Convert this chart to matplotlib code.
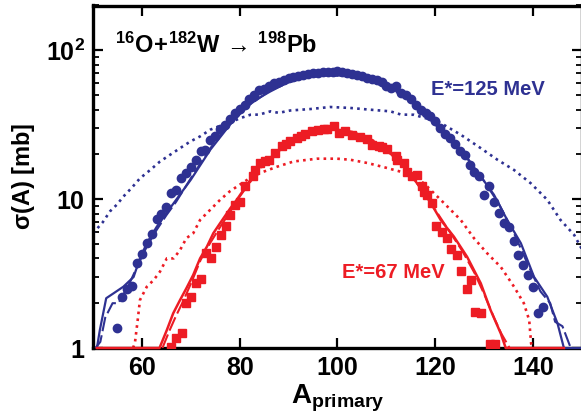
import matplotlib
matplotlib.use("Agg")
import matplotlib.pyplot as plt
from matplotlib.ticker import LogLocator, NullFormatter, FixedLocator, FixedFormatter

plt.rcParams['font.family'] = ['Liberation Sans', 'DejaVu Sans']
plt.rcParams['font.weight'] = 'bold'
plt.rcParams['mathtext.fontset'] = 'custom'
plt.rcParams['mathtext.rm'] = 'Liberation Sans:bold'
plt.rcParams['mathtext.bf'] = 'Liberation Sans:bold'
plt.rcParams['mathtext.it'] = 'Liberation Sans:bold'

BLUE = '#2E3192'
RED = '#ED1C24'

# ---- data: E*=125 MeV (blue circles) ----
A_blue = [55, 56, 57, 58, 59, 60, 61, 62, 63, 64, 65, 66, 67, 68, 69, 70, 71, 72, 73, 74,
          75, 76, 77, 78, 79, 80, 81, 82, 83, 84, 85, 86, 87, 88, 89, 90, 91, 92, 93, 94,
          95, 96, 97, 98, 99, 100, 101, 102, 103, 104, 105, 106, 107, 108, 109, 110, 111, 112,
          113, 114, 115, 116, 117, 118, 119, 120, 121, 122, 123, 124, 125, 126, 127, 128, 129,
          130, 131, 132, 133, 134, 135, 136, 137, 138, 139, 140, 141, 142]
sig_blue = [1.37, 2.2, 2.5, 2.6, 3.7, 4.3, 5.1, 5.8, 7.3, 8.0, 8.9, 11.0, 11.6, 13.8, 15.0, 16.4,
            18.4, 21.2, 21.5, 25.1, 26.4, 29.7, 31.6, 34.5, 37.9, 40.3, 43.1, 47.0, 50.0, 54.4,
            55.0, 58.0, 60.4, 61.5, 63.0, 65.0, 66.0, 67.5, 68.6, 69.5, 70.0, 70.8, 71.0, 71.5,
            72.0, 72.2, 71.0, 70.5, 69.5, 68.6, 67.0, 65.2, 64.0, 62.8, 61.0, 58.0, 55.8, 57.3,
            52.0, 50.0, 47.0, 43.0, 40.0, 38.0, 36.0, 33.3, 30.0, 27.5, 25.7, 23.5, 21.0, 19.8,
            17.0, 15.3, 14.2, 10.7, 12.2, 9.5, 8.05, 6.9, 6.5, 5.2, 4.2, 3.6, 3.1, 2.56, 1.71, 1.89]

# ---- data: E*=67 MeV (red squares) ----
A_red = [65.9, 66.9, 68.1, 69.1, 70.1, 71.1, 72.1, 73.1, 74.1, 75.2, 76.2, 77.2, 78.1, 79.1,
         80.0, 81.1, 82.8, 83.2, 84.2, 85.2, 86.0, 87.2, 88.6, 89.5, 90.3, 91.7, 92.5, 93.4,
         94.8, 96.1, 97.2, 97.9, 99.2, 100.3, 101.6, 103.0, 104.7, 106.1, 107.1, 108.4, 109.1,
         110.2, 111.9, 112.2, 113.6, 114.2, 115.3, 116.3, 117.3, 117.7, 118.3, 119.4, 120.2,
         121.4, 122.4, 123.3, 124.5, 125.2, 126.5, 127.4, 128.1, 129.3, 131.2, 132.3]
sig_red = [1.02, 1.17, 1.27, 2.0, 2.21, 2.72, 2.9, 4.33, 4.0, 4.8, 5.75, 6.6, 7.8, 9.2,
           9.5, 12.2, 14.2, 15.7, 17.5, 18.0, 18.4, 20.4, 22.6, 23.5, 24.4, 25.7, 26.5, 27.5,
           28.5, 29.3, 29.5, 29.6, 31.1, 27.8, 28.5, 27.1, 26.1, 25.3, 23.2, 22.6, 22.4,
           21.6, 19.4, 18.4, 17.5, 15.3, 14.2, 14.6, 12.2, 11.2, 10.6, 9.4, 6.6,
           6.05, 5.47, 4.61, 4.22, 3.31, 2.48, 2.86, 1.74, 1.71, 1.06, 1.07]

# ---- calculations ----
A_bsol = [50.8, 51.4, 52.7, 54.2, 56.2, 58.3, 59.6, 61.0, 63.0, 65.0, 67.0, 70.0, 74.0, 78.0,
          81.5, 84.0, 86.3, 90.3, 94.4, 98.5, 102.6, 106.7, 110.8, 114.9, 117.0, 121.0, 125.2,
          129.3, 132.0, 134.7, 137.5, 140.2, 142.9, 145.0, 146.3, 150.0]
s_bsol = [1.0, 1.32, 2.16, 2.33, 2.58, 3.0, 4.0, 5.06, 6.5, 8.05, 9.9, 13.5, 21.5, 31.6,
          42.0, 48.0, 53.0, 62.0, 66.8, 68.6, 66.8, 62.0, 55.8, 47.6, 40.0, 29.3, 21.5,
          14.2, 10.7, 7.25, 5.06, 3.0, 2.21, 1.46, 1.0, 1.0]

A_bdash = [50.5, 51.5, 52.5, 54.0, 55.2, 57.3, 59.0, 61.0, 63.0, 65.0, 67.0, 70.0, 74.0, 78.0,
           82.0, 86.0, 90.0, 94.0, 98.0, 102.0, 106.0, 110.0, 114.0, 118.0, 122.0, 126.0,
           130.0, 133.0, 136.0, 139.0, 141.5, 143.5, 144.5, 146.0, 147.7]
s_bdash = [1.0, 1.1, 1.6, 2.0, 2.0, 2.65, 3.5, 4.8, 6.2, 7.8, 9.6, 13.8, 22.0, 32.5,
           43.0, 53.0, 61.0, 66.0, 68.0, 67.0, 63.0, 56.5, 48.5, 37.0, 27.5, 20.0,
           13.2, 9.3, 6.0, 3.6, 2.4, 2.0, 1.5, 1.4, 1.0]

A_bdot = [50.0, 52.0, 53.5, 54.9, 56.2, 57.9, 59.6, 61.7, 63.7, 65.8, 67.8, 69.9, 71.9, 74.0,
          76.0, 78.1, 80.1, 82.2, 84.0, 86.3, 88.0, 90.3, 94.4, 98.5, 102.6, 106.7, 110.8,
          113.0, 115.6, 118.0, 121.1, 125.2, 129.3, 132.7, 136.1, 139.5, 142.9, 145.6, 148.4,
          150.0]
s_bdot = [5.9, 7.0, 8.3, 9.2, 10.4, 11.9, 13.8, 15.7, 17.9, 19.9, 22.0, 24.4, 26.4, 29.3,
          31.1, 32.8, 35.0, 36.9, 37.0, 38.9, 38.0, 39.4, 40.3, 41.6, 41.0, 39.9, 38.9,
          37.0, 36.9, 35.0, 32.5, 27.1, 22.0, 18.4, 15.7, 12.8, 9.9, 7.25, 5.75, 4.6]

A_rsol = [50.8, 63.6, 65.1, 66.4, 67.8, 69.1, 70.5, 71.9, 73.3, 74.6, 76.0, 78.1, 79.4, 82.0,
          84.2, 87.5, 91.0, 95.0, 99.0, 103.0, 107.0, 111.0, 114.0, 116.5, 118.7, 121.1,
          123.8, 126.5, 129.3, 131.3, 133.4, 134.4, 146.3]
s_rsol = [1.0, 1.0, 1.32, 1.71, 2.1, 2.52, 3.1, 4.0, 4.8, 5.9, 6.9, 8.7, 9.9, 13.2,
          16.6, 20.5, 25.1, 28.0, 29.5, 28.3, 25.0, 20.0, 16.0, 12.5, 9.9, 7.25,
          5.6, 4.1, 2.72, 1.8, 1.25, 1.0, 1.0]

A_rdash = [64.2, 65.6, 67.0, 68.4, 70.0, 72.0, 74.0, 76.0, 78.0, 80.0, 84.0, 88.0, 92.0,
           96.0, 100.0, 104.0, 108.0, 112.0, 115.0, 118.0, 120.5, 123.0, 125.5, 128.0,
           130.0, 132.0, 133.5, 135.2]
s_rdash = [1.0, 1.3, 1.65, 2.05, 2.7, 3.9, 5.1, 6.5, 8.2, 10.4, 15.8, 21.2, 25.8,
           28.6, 29.4, 27.8, 24.2, 18.8, 14.6, 10.6, 8.0, 6.0, 4.5, 3.2,
           2.3, 1.6, 1.25, 1.0]

A_rdot = [58.2, 58.6, 59.2, 59.6, 61.0, 62.4, 63.7, 65.1, 66.5, 67.8, 69.1, 70.5, 71.9, 74.0,
          76.0, 78.0, 80.0, 82.0, 84.2, 87.6, 91.0, 95.8, 99.9, 102.6, 106.1, 109.5, 112.9,
          115.6, 118.3, 121.1, 125.2, 127.9, 130.6, 133.4, 136.1, 138.1, 139.2, 139.6, 140.0]
s_rdot = [1.0, 1.1, 1.6, 2.1, 2.58, 2.86, 3.26, 4.0, 4.0, 4.55, 5.47, 5.9, 7.25, 8.5,
          9.9, 11.3, 12.5, 13.8, 15.0, 16.5, 17.9, 18.7, 18.7, 18.4, 17.5, 16.4, 15.3,
          14.6, 12.2, 9.9, 7.25, 5.47, 4.33, 3.5, 2.58, 2.0, 1.54, 1.07, 1.0]

xticks = [60, 80, 100, 120, 140]
yticks = [1, 10, 100]
ytick_labels = ['1', '10', r'$\mathbf{10^2}$']

fig = plt.figure(figsize=(5.81, 4.2), dpi=100)
ax = fig.add_axes([93/581, 1 - 348/420, (582 - 93)/581, (348 - 5.5)/420])

dot = (0, (1.0, 1.6))
ax.plot(A_bdot, s_bdot, color=BLUE, lw=1.9, ls=dot, zorder=2)
ax.plot(A_rdot, s_rdot, color=RED, lw=1.9, ls=dot, zorder=2)
ax.plot(A_bdash, s_bdash, color=BLUE, lw=1.5, ls=(0, (7, 2)), zorder=3)
ax.plot(A_bsol, s_bsol, color=BLUE, lw=1.6, zorder=3, clip_on=False)
ax.plot(A_rdash, s_rdash, color=RED, lw=1.5, ls=(0, (7, 2)), zorder=3)
ax.plot(A_rsol, s_rsol, color=RED, lw=1.8, zorder=3, clip_on=False)
ax.plot(A_blue, sig_blue, 'o', color=BLUE, ms=6.0, mec=BLUE, zorder=4)
ax.plot(A_red, sig_red, 's', color=RED, ms=5.4, mec=RED, zorder=4)

ax.set_yscale('log')
ax.set_xlim(50, 150)
ax.set_ylim(1, 200)

ax.xaxis.set_major_locator(FixedLocator(xticks))
ax.yaxis.set_major_locator(FixedLocator(yticks))
ax.yaxis.set_major_formatter(FixedFormatter(ytick_labels))
ax.yaxis.set_minor_locator(LogLocator(base=10, subs=range(2, 10)))
ax.yaxis.set_minor_formatter(NullFormatter())
ax.tick_params(which='major', direction='in', length=7, width=1.6, top=True, right=True,
               labelsize=18, pad=6)
ax.tick_params(which='minor', direction='in', length=4, width=1.3, top=False, right=True)
ax.tick_params(axis='x', which='minor', bottom=False, top=False)
for sp in ax.spines.values():
    sp.set_linewidth(2.4)
    sp.set_zorder(2.5)
for lab in ax.get_xticklabels() + ax.get_yticklabels():
    lab.set_fontweight('bold')

ax.set_xlabel(r'$\mathbf{A_{primary}}$', fontsize=20, labelpad=2)
ax.set_ylabel(r'$\mathbf{\sigma}$(A) [mb]', fontsize=17, fontweight='bold', labelpad=6)

ax.text(0.045, 0.885, r'$\mathbf{^{16}O\!+\!^{182}W}\,\rightarrow\,\mathbf{^{198}Pb}$',
        transform=ax.transAxes, fontsize=17, ha='left', va='center')
ax.text(130.7, 54.4, 'E*=125 MeV', color=BLUE, fontsize=14.5, fontweight='bold',
        ha='center', va='center')
ax.text(111.4, 3.22, 'E*=67 MeV', color=RED, fontsize=14.5, fontweight='bold',
        ha='center', va='center')

fig.savefig('out.png', dpi=100)
